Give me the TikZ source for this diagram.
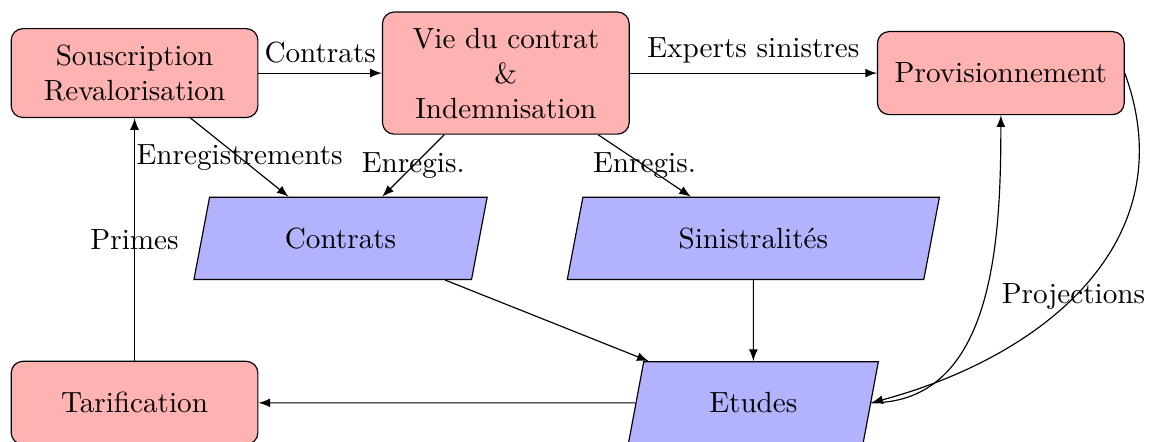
\documentclass[tikz,border=0pt]{standalone}
\usetikzlibrary{shapes.geometric,arrows}

\begin{document}
\begin{tikzpicture}[>=latex,
		process/.style={rectangle, rounded corners, draw, fill=red!30, align=center, minimum width=2.97cm, minimum height=1cm},
		data/.style={trapezium, trapezium left angle=69, trapezium right angle=111, trapezium stretches body, draw, fill=blue!30, minimum height=0.99cm}]
		\useasboundingbox (0,0) rectangle (13.99,-5.31);
		
		% Process nodes
		\node[process, minimum height=1.07cm] (souscription) at (1.62,-0.88) {Souscription\\Revalorisation};
		\node[process, minimum height=1.47cm] (vie) at (6.09,-0.88) {Vie du contrat\\\&\\Indemnisation};
		\node[process] (provisionnement) at (12.05,-0.88) {Provisionnement};
		\node[process] (tarification) at (1.62,-4.85) {Tarification};
		
		% Data nodes
		\node[data, minimum width=3.53cm] (contrats) at (4.10,-2.87) {Contrats};
		\node[data, minimum width=4.48cm] (sinistralites) at (9.07,-2.87) {Sinistralités};
		\node[data, minimum width=3.01cm] (etudes) at (9.07,-4.85) {Etudes};
		
		% connections
		\draw[->] (souscription) -- node[above] {Contrats} (vie);
		\draw[->] (vie) -- node[above] {Experts sinistres} (provisionnement);
		
		\draw[->] (souscription) -- node {Enregistrements} (contrats);
		\draw[->] (vie) -- node {Enregis.} (contrats);
		\draw[->] (vie) -- node {Enregis.} (sinistralites);
		
		\draw[->] (contrats) -- (etudes);
		\draw[->] (sinistralites) -- (etudes);
		
		\draw[->] (etudes) -- (tarification);
		\draw[->] (tarification) -- node {Primes} (souscription);
		
		% Loop with provisionnement
		\draw[->] (etudes.east) to[out=0, in=-90] (provisionnement.south);
		\draw[->] (provisionnement.east) to[out=-70, in=15, looseness=1.1] node[pos=0.54] {Projections} (etudes.east);
	\end{tikzpicture}
\end{document}
